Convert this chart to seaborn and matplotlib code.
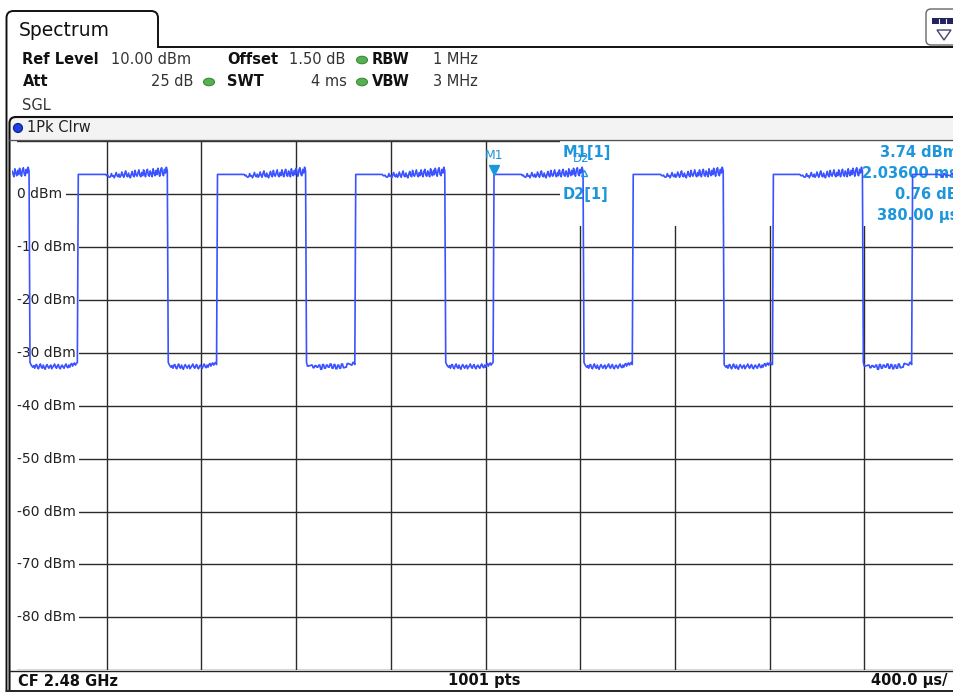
import numpy as np
import matplotlib
matplotlib.use("Agg")
import matplotlib.pyplot as plt
import seaborn as sns
from matplotlib.patches import Rectangle, Ellipse, Circle, Polygon, FancyBboxPatch, PathPatch
from matplotlib.path import Path

# ---- trace data ----
time_us = np.linspace(0, 4000, 1001)          # 1001 pts, 400 us/div
rise_us = [279, 866, 1449, 2036, 2623, 3214, 3802]
fall_us = [76, 659, 1242, 1831, 2416, 3005, 3594]
high_flat_dbm = 3.74
flat_samples = 30
hi_noise = [3.6, 3.3, 3.2, 3.3, 3.9, 3.4, 3.5, 3.1, 3.6, 4.1, 3.5, 3.3, 3.8, 3.2, 3.5, 4.2,
            3.6, 3.2, 3.9, 4.4, 3.5, 3.3, 4.0, 3.4, 3.1, 3.8, 4.3, 3.5, 3.3, 4.5, 3.7, 3.4,
            4.0, 4.6, 3.6, 3.3, 4.1, 3.5, 4.6, 3.8, 3.3, 4.3, 4.7, 3.6, 3.4, 4.4, 3.9, 3.3,
            4.8, 4.0, 3.5, 4.5, 3.7, 4.9, 4.1, 3.4, 4.6, 5.0, 3.8, 3.5, 4.7, 4.0, 5.1, 4.4]
lo_noise = [-31.8, -32.2, -32.5, -32.7, -32.4, -32.9, -32.3, -32.2, -32.8, -33.0, -32.4, -32.1,
            -32.7, -32.9, -32.3, -32.8, -33.1, -32.5, -32.2, -32.6, -32.9, -32.5, -32.3, -33.0,
            -32.7, -32.4, -32.1, -32.7, -32.9, -32.4, -32.2, -32.8, -33.0, -32.5, -32.3, -32.7,
            -32.9, -32.4, -32.1, -32.6, -32.8, -32.3, -32.7, -32.2, -32.0, -32.5, -32.1, -31.9,
            -32.3, -32.0, -31.8, -32.2]

level_ticks = [0, -10, -20, -30, -40, -50, -60, -70, -80]
level_labels = ["0 dBm", "-10 dBm", "-20 dBm", "-30 dBm", "-40 dBm",
                "-50 dBm", "-60 dBm", "-70 dBm", "-80 dBm"]

m1_time_us, m1_level = 2036, 3.74
d2_time_us = 2416
marker_names = ["M1[1]", "D2[1]"]
marker_values = ["3.74 dBm", "2.03600 ms", "0.76 dB", "380.00 µs"]

# ---- build trace from edges ----
step = time_us[1] - time_us[0]
bounds = sorted([(t, 1) for t in rise_us] + [(t, 0) for t in fall_us])
level = np.zeros(len(time_us))
for i, ti in enumerate(time_us):
    past = [b for b in bounds if b[0] <= ti]
    if not past:
        nxt = bounds[0][0]
        until = int(np.ceil((nxt - ti) / step))
        level[i] = hi_noise[len(hi_noise) - until]
        continue
    t0, kind = past[-1]
    k = int(round((ti - t0) / step))
    if kind == 1:
        if k < flat_samples:
            level[i] = high_flat_dbm
        else:
            nxt = [f for f in fall_us if f > t0]
            if nxt:
                idx = len(hi_noise) - int(np.ceil((nxt[0] - ti) / step))
            else:
                idx = k - flat_samples
            level[i] = hi_noise[idx] if 0 <= idx < len(hi_noise) else 3.5
    else:
        level[i] = lo_noise[min(k, len(lo_noise) - 1)]

# ---- screen geometry ----
W, H = 954, 693
X0, X1 = 12.0, 959.0
Y10, YM90 = 141.3, 670.3


def px_t(x):
    return (x - X0) / (X1 - X0) * 4000


def px_db(y):
    return 10 - (y - Y10) / (YM90 - Y10) * 100


sns.set_style("white")
plt.rcParams["font.family"] = ["DejaVu Sans"]

fig = plt.figure(figsize=(W / 100, H / 100), dpi=100)
fig.patch.set_facecolor("white")

ax = fig.add_axes([X0 / W, 1 - YM90 / H, (X1 - X0) / W, (YM90 - Y10) / H])
ax.set_xlim(0, 4000)
ax.set_ylim(-90, 10)
ax.set_xticks(np.arange(0, 4001, 400))
ax.set_yticks(np.arange(-90, 11, 10))
ax.tick_params(length=0, labelbottom=False, labelleft=False)
ax.grid(True, color="#2b2b2b", linewidth=1.0)
ax.set_axisbelow(True)
for s in ax.spines.values():
    s.set_visible(False)

sns.lineplot(x=time_us, y=level, ax=ax, color="#3a52ff", linewidth=1.2, zorder=3)
ax.set_xlabel("")
ax.set_ylabel("")

# level labels sit on a white strip at the left edge
ax.add_patch(Rectangle((0, -90), px_t(17), 100, fc="white", ec="none", zorder=1.5))
for lv, lab in zip(level_ticks, level_labels):
    ax.text(px_t(17), lv, lab, ha="left", va="center", fontsize=10, color="#222222",
            bbox=dict(boxstyle="square,pad=0.25", fc="white", ec="none"), zorder=2)

# marker info area hides the grid
ax.add_patch(Rectangle((px_t(560), px_db(226)), 4300 - px_t(560), px_db(139) - px_db(226),
                       fc="white", ec="none", zorder=1.5))

mk = "#1e96dc"
ax.text(px_t(563), px_db(153), marker_names[0], ha="left", va="center",
        fontsize=10.5, weight="bold", color=mk, zorder=2.5)
ax.text(px_t(563), px_db(195), marker_names[1], ha="left", va="center",
        fontsize=10.5, weight="bold", color=mk, zorder=2.5)
for txt, yy in zip(marker_values, [153, 174, 195, 216]):
    ax.text(px_t(958), px_db(yy), txt, ha="right", va="center",
            fontsize=10.5, weight="bold", color=mk, zorder=2.5)
ax.text(m1_time_us, px_db(156), "M1", ha="center", va="center", fontsize=9, color=mk, zorder=2.5)
ax.text(d2_time_us - 10, px_db(159), "D2", ha="center", va="center", fontsize=8.5, color=mk, zorder=2.5)
ax.plot(m1_time_us, px_db(170), marker="v", ms=7, color=mk, zorder=4)
ax.plot(d2_time_us, px_db(173.5), marker="^", ms=5, mfc="none", mec=mk, mew=1, zorder=4)

# ---- screen decoration ----
deco = fig.add_axes([0, 0, 1, 1], zorder=10)
deco.set_xlim(0, W)
deco.set_ylim(H, 0)
deco.axis("off")
deco.patch.set_visible(False)

deco.add_patch(Rectangle((10, 117), W - 10, 22, fc="#f3f3f3", ec="none", zorder=0))

tab = Path([(6.5, 690), (6.5, 18), (6.5, 11), (13.5, 11), (151, 11), (158, 11), (158, 18),
            (158, 47), (W, 47)],
           [Path.MOVETO, Path.LINETO, Path.CURVE3, Path.CURVE3, Path.LINETO,
            Path.CURVE3, Path.CURVE3, Path.LINETO, Path.LINETO])
deco.add_patch(PathPatch(tab, fc="none", ec="#111111", lw=1.4))
inner = Path([(W, 117), (16, 117), (9.5, 117), (9.5, 123), (9.5, 690)],
             [Path.MOVETO, Path.LINETO, Path.CURVE3, Path.CURVE3, Path.LINETO])
deco.add_patch(PathPatch(inner, fc="none", ec="#111111", lw=1.5))
deco.plot([9.5, W], [139.5, 139.5], color="#555555", lw=1.0)
deco.plot([9.5, W], [671, 671], color="#222222", lw=1.0)
deco.plot([6.5, W], [690.5, 690.5], color="#111111", lw=1.3)

deco.text(19, 30, "Spectrum", fontsize=13.5, ha="left", va="center", color="#111111")

# top-right icon
deco.add_patch(FancyBboxPatch((926, 9), 40, 36, boxstyle="round,pad=0,rounding_size=5",
                              fc="white", ec="#666666", lw=1.0))
deco.add_patch(Rectangle((932, 18), 22, 6, fc="#23235e", ec="none"))
for xx in (939, 946):
    deco.plot([xx, xx], [19, 23], color="white", lw=0.8)
deco.add_patch(Polygon([(937, 30), (951, 30), (944, 40)], closed=True, fc="none", ec="#444466", lw=1.0))

fs = 10.5
hdr = [(22.5, 60, "Ref Level", "bold", "left"), (111, 60, "10.00 dBm", "normal", "left"),
       (227, 60, "Offset", "bold", "left"), (289, 60, "1.50 dB", "normal", "left"),
       (372, 60, "RBW", "bold", "left"), (433, 60, "1 MHz", "normal", "left"),
       (22.5, 82, "Att", "bold", "left"), (193, 82, "25 dB", "normal", "right"),
       (227, 82, "SWT", "bold", "left"), (347, 82, "4 ms", "normal", "right"),
       (372, 82, "VBW", "bold", "left"), (433, 82, "3 MHz", "normal", "left"),
       (22.5, 105, "SGL", "normal", "left")]
for x, y, s, w, ha in hdr:
    deco.text(x, y, s, fontsize=fs, weight=w, ha=ha, va="center",
              color="#111111" if w == "bold" else "#333333")
for cx, cy in [(362, 60), (209, 82), (362, 82)]:
    deco.add_patch(Ellipse((cx, cy), 11, 7.5, fc="#55b052", ec="#3c8a3a", lw=0.8))

deco.add_patch(Circle((18, 128), 4.5, fc="#1f3fe6", ec="#0c1f8a", lw=0.8))
deco.text(27, 128, "1Pk Clrw", fontsize=fs, ha="left", va="center", color="#222222")

deco.text(18, 681, "CF 2.48 GHz", fontsize=10.5, weight="bold", ha="left", va="center", color="#111111")
deco.text(484, 681, "1001 pts", fontsize=10.5, weight="bold", ha="center", va="center", color="#111111")
deco.text(948, 681, "400.0 µs/", fontsize=10.5, weight="bold", ha="right", va="center", color="#111111")

fig.savefig("out.png", dpi=100)
